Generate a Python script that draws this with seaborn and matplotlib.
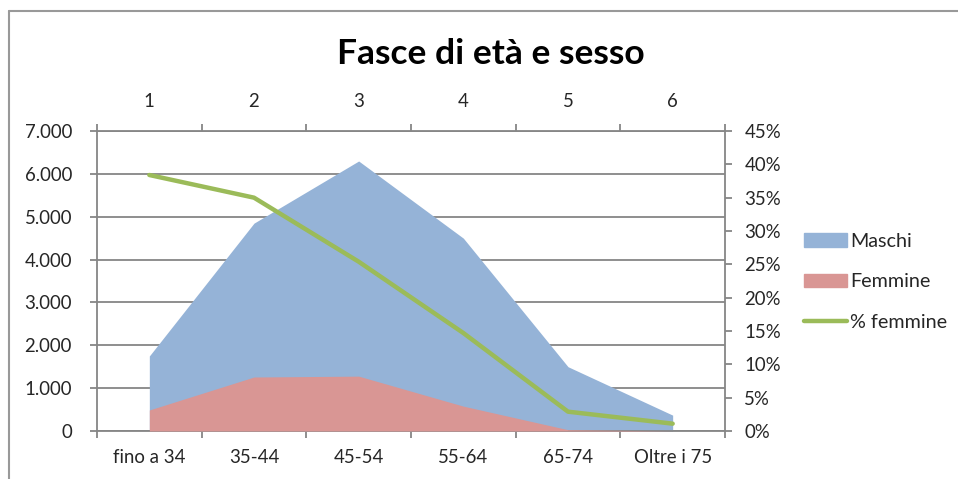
import pandas as pd
import matplotlib.pyplot as plt
import matplotlib.lines as mlines
import matplotlib.patches as mpatches
import seaborn as sns
from matplotlib.ticker import FuncFormatter, FixedLocator

# Dati
fasce = ["fino a 34", "35-44", "45-54", "55-64", "65-74", "Oltre i 75"]
numeri_fascia = ["1", "2", "3", "4", "5", "6"]
maschi = [1750, 4850, 6300, 4500, 1500, 370]
femmine = [490, 1260, 1280, 580, 30, 0]
perc_femmine = [0.384, 0.350, 0.254, 0.147, 0.029, 0.011]

df = pd.DataFrame({
    "pos": range(len(fasce)),
    "Fascia": fasce,
    "Maschi": maschi,
    "Femmine": femmine,
    "perc": perc_femmine,
})

sns.set_theme(style="white")
plt.rcParams["font.family"] = ["Lato", "DejaVu Sans"]

BLU = "#95B3D7"
ROSA = "#D99694"
VERDE = "#9BBB59"
GRIGIO = "#868686"
FS = 13.4

fig = plt.figure(figsize=(9.58, 4.79), dpi=100)
ax = fig.add_axes([97 / 958, 48 / 479, 628 / 958, 300 / 479])

# Aree (non impilate, come in Excel)
ax.fill_between(df["pos"], df["Maschi"], color=BLU, lw=0, zorder=2)
ax.fill_between(df["pos"], df["Femmine"], color=ROSA, lw=0, zorder=3)

ax.set_xlim(-0.5, len(fasce) - 0.5)
ax.set_ylim(0, 7000)
ax.set_yticks(range(0, 7001, 1000))
ax.yaxis.set_major_formatter(FuncFormatter(lambda v, p: f"{int(v):,}".replace(",", ".")))
ax.grid(axis="y", color=GRIGIO, lw=1.3)
ax.set_axisbelow(True)

# tacche ai confini delle categorie, etichette al centro
confini = [i - 0.5 for i in range(len(fasce) + 1)]
ax.xaxis.set_major_locator(FixedLocator(confini))
ax.xaxis.set_minor_locator(FixedLocator(list(df["pos"])))
ax.set_xticklabels([""] * len(confini))
ax.set_xticklabels(fasce, minor=True)
ax.tick_params(axis="x", which="major", direction="out", length=5, width=1.3, color=GRIGIO, bottom=True)
ax.tick_params(axis="x", which="minor", length=0, pad=13, labelsize=FS, bottom=True)
ax.tick_params(axis="y", direction="out", length=5, width=1.3, color=GRIGIO, pad=13, labelsize=FS, left=True)
ax.set_xlabel("")
ax.set_ylabel("")

for s in ax.spines.values():
    s.set_color(GRIGIO)
    s.set_linewidth(1.3)

# asse secondario y: percentuale femmine
ax2 = ax.twinx()
sns.lineplot(data=df, x="pos", y="perc", ax=ax2, color=VERDE, lw=3.2, zorder=5,
             solid_capstyle="round", legend=False)
ax2.set_ylim(0, 0.45)
ax2.set_yticks([i * 0.05 for i in range(10)])
ax2.yaxis.set_major_formatter(FuncFormatter(lambda v, p: f"{round(v * 100)}%"))
ax2.set_ylabel("")
ax2.set_xlabel("")
ax2.tick_params(axis="y", direction="out", length=5, width=1.3, color=GRIGIO, pad=9, labelsize=FS, right=True)
ax2.grid(False)
for s in ax2.spines.values():
    s.set_visible(False)

# asse secondario x in alto: numeri 1..6
ax3 = ax.twiny()
ax3.set_xlim(ax.get_xlim())
ax3.xaxis.set_major_locator(FixedLocator(confini))
ax3.xaxis.set_minor_locator(FixedLocator(list(df["pos"])))
ax3.set_xticklabels([""] * len(confini))
ax3.set_xticklabels(numeri_fascia, minor=True)
ax3.tick_params(axis="x", which="major", direction="out", length=5, width=1.3, color=GRIGIO, top=True)
ax3.tick_params(axis="x", which="minor", length=0, pad=15, labelsize=FS, top=True)
for s in ax3.spines.values():
    s.set_visible(False)

fig.text(491 / 958, 1 - 54 / 479, "Fasce di età e sesso", ha="center", va="center",
         fontsize=25.5, fontweight="bold", color="black")

# legenda
handles = [
    mpatches.Patch(color=BLU, label="Maschi"),
    mpatches.Patch(color=ROSA, label="Femmine"),
    mlines.Line2D([], [], color=VERDE, lw=3.2, label="% femmine"),
]
fig.legend(handles=handles, loc="center left", bbox_to_anchor=(804 / 958, 1 - 282 / 479),
           frameon=False, fontsize=14.2, handlelength=2.2, handletextpad=0.15,
           labelspacing=1.2, borderpad=0, borderaxespad=0)

# bordo del grafico (solo sinistra e alto visibili)
fig.add_artist(mlines.Line2D([9 / 958, 9 / 958], [0, 1 - 11 / 479], color="#999999", lw=1.5))
fig.add_artist(mlines.Line2D([9 / 958, 1], [1 - 11 / 479, 1 - 11 / 479], color="#999999", lw=1.5))

fig.savefig("out.png", dpi=100)
plt.close(fig)
